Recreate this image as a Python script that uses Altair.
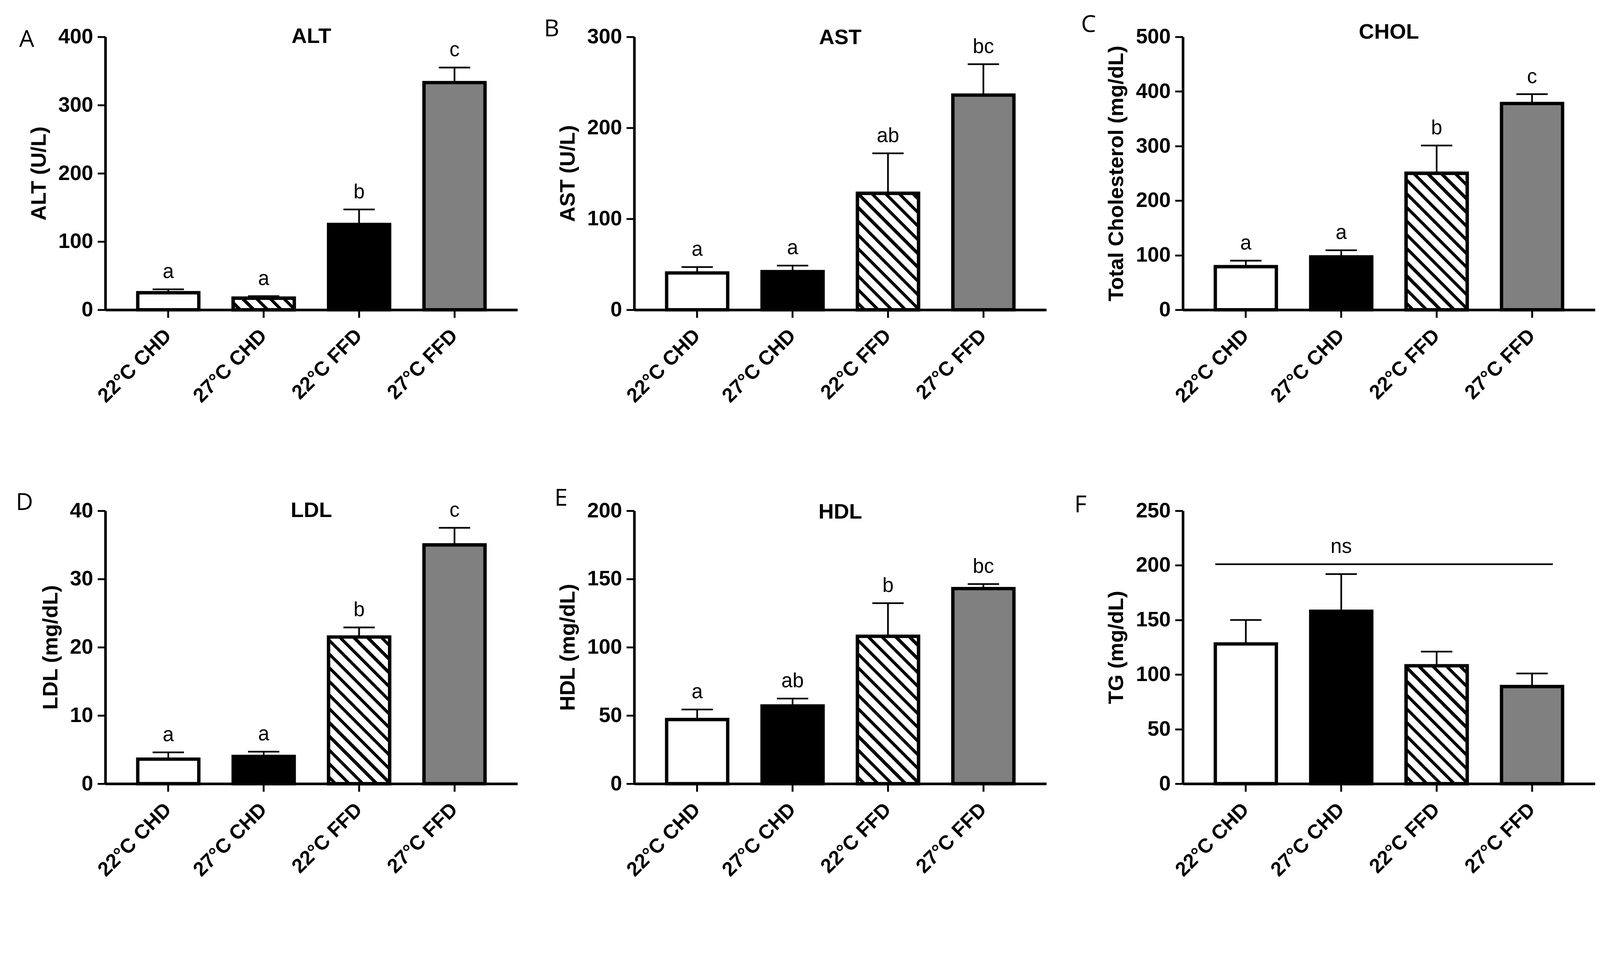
import math
import altair as alt
import pandas as pd

# ---------------- data ----------------
groups = ["22°C CHD", "27°C CHD", "22°C FFD", "27°C FFD"]

alt_mean = [25, 17, 125, 333]
alt_err = [5, 3, 22, 22]
alt_sig = ["a", "a", "b", "c"]
alt_fill = ["white", "hatch", "black", "gray"]
alt_ticks = [0, 100, 200, 300, 400]

ast_mean = [40.5, 42, 128, 236]
ast_err = [6.5, 6.6, 44, 34]
ast_sig = ["a", "a", "ab", "bc"]
ast_ticks = [0, 100, 200, 300]

chol_mean = [79, 97, 250, 378]
chol_err = [11, 12, 51, 17]
chol_sig = ["a", "a", "b", "c"]
chol_ticks = [0, 100, 200, 300, 400, 500]

ldl_mean = [3.6, 4.0, 21.5, 35.0]
ldl_err = [1.0, 0.7, 1.4, 2.5]
ldl_sig = ["a", "a", "b", "c"]
ldl_ticks = [0, 10, 20, 30, 40]

hdl_mean = [47, 57, 108, 143]
hdl_err = [7.4, 5.4, 24.3, 3.3]
hdl_sig = ["a", "ab", "b", "bc"]
hdl_ticks = [0, 50, 100, 150, 200]

tg_mean = [128, 158, 108, 89]
tg_err = [22, 34, 13, 12]
tg_sig = ["", "", "", ""]
tg_ticks = [0, 50, 100, 150, 200, 250]
tg_ns_level = 201
tg_ns_label = "ns"

std_fill = ["white", "black", "hatch", "gray"]

# ---------------- style ----------------
FILL_COLOR = {"white": "#ffffff", "black": "#000000", "gray": "#808080", "hatch": "#ffffff"}
PW, H = 1105, 732            # drawn plot width / height
CELL_W = [1418, 1471, 1105]  # layout cell widths per column
PI, PO = 0.36, 0.34
STEP = PW / (len(groups) - PI + 2 * PO)
BW = STEP * (1 - PI)
FONT = "Liberation Sans, Arial, sans-serif"
BAR_STROKE = 9


def hatch_gradient(h_px, w_px=BW, period=26.0, frac=0.32):
    L = (w_px + h_px) / math.sqrt(2)
    P = period / L
    k = (w_px + h_px) / (w_px ** 2 + h_px ** 2)
    stops = [{"offset": 0, "color": "white"}]
    j = 0
    phase = P * 0.35
    while True:
        s = phase + j * P
        if s >= 1:
            break
        e = min(s + frac * P, 1.0)
        stops += [
            {"offset": round(s, 6), "color": "white"},
            {"offset": round(s, 6), "color": "black"},
            {"offset": round(e, 6), "color": "black"},
            {"offset": round(e, 6), "color": "white"},
        ]
        j += 1
    stops.append({"offset": 1, "color": "white"})
    return {"gradient": "linear", "stops": stops,
            "x1": 0, "y1": 1, "x2": round(w_px * k, 6), "y2": round(1 - h_px * k, 6)}


def panel(letter, title, ytitle, means, errs, sigs, fills, ticks, cell_w,
          letter_dx, letter_dy, title_dy, ns=None):
    ymax = ticks[-1]
    df = pd.DataFrame({
        "group": groups,
        "mean": means,
        "top": [m + e for m, e in zip(means, errs)],
        "sig": sigs,
        "kind": fills,
        "color": [FILL_COLOR[f] for f in fills],
    })
    xscale = alt.Scale(domain=groups, paddingInner=PI, paddingOuter=PO, range=[0, PW])
    xaxis = alt.Axis(title=None, labelAngle=-45, labelAlign="right",
                     labelBaseline="middle", labelPadding=40, labelFontSize=54)
    yscale = alt.Scale(domain=[0, ymax], nice=False)
    yaxis = alt.Axis(title=ytitle, values=ticks, format="d", labelPadding=12)

    def X(f):
        return alt.X(f + ":N", sort=groups, scale=xscale, axis=xaxis)

    def Y(f):
        return alt.Y(f + ":Q", scale=yscale, axis=yaxis)

    base = alt.Chart(df)
    bars = base.mark_bar(stroke="black", strokeWidth=BAR_STROKE).encode(
        x=X("group"), y=Y("mean"), fill=alt.Fill("color:N", scale=None))
    hidx = fills.index("hatch")
    h_px = means[hidx] / ymax * H
    hatch = base.transform_filter(alt.datum.kind == "hatch").mark_bar(
        fill=hatch_gradient(h_px), stroke="black", strokeWidth=BAR_STROKE).encode(
        x=X("group"), y=Y("mean"))
    err = base.mark_rule(color="black", strokeWidth=4.5).encode(
        x=X("group"), y=Y("mean"), y2="top:Q")
    cap = base.mark_tick(color="black", thickness=4.5, size=84, opacity=1).encode(
        x=X("group"), y=Y("top"))
    sig = base.mark_text(font=FONT, fontSize=54, color="black", dy=-30,
                         baseline="alphabetic").encode(
        x=X("group"), y=Y("top"), text="sig:N")
    lab = alt.Chart(pd.DataFrame({"t": [letter]})).mark_text(
        align="left", baseline="alphabetic", font="Open Sans", fontSize=64,
        color="black").encode(x=alt.value(letter_dx), y=alt.value(letter_dy), text="t:N")
    layers = [bars, hatch, err, cap, sig, lab]
    if title:
        ttl = alt.Chart(pd.DataFrame({"t": [title]})).mark_text(
            align="center", baseline="alphabetic", font=FONT, fontSize=57,
            fontWeight="bold", color="black").encode(
            x=alt.value(PW / 2), y=alt.value(title_dy), text="t:N")
        layers.append(ttl)
    if ns is not None:
        level, label = ns
        nsdf = pd.DataFrame({"start": [groups[0]], "end": [groups[-1]],
                             "mid": [groups[1]], "level": [level], "label": [label]})
        try:
            rule = alt.Chart(nsdf).mark_rule(color="black", strokeWidth=4.5).encode(
                x=alt.X("start:N", sort=groups, scale=xscale, axis=xaxis, bandPosition=0),
                x2=alt.X2("end", bandPosition=0.84),
                y=Y("level"))
            rule.to_dict()
        except Exception:
            rule = alt.Chart(nsdf).mark_rule(color="black", strokeWidth=4.5,
                                             x2Offset=0.34 * BW).encode(
                x=alt.X("start:N", sort=groups, scale=xscale, axis=xaxis, bandPosition=0),
                x2=alt.X2("end"),
                y=Y("level"))
        nstext = alt.Chart(nsdf).mark_text(font=FONT, fontSize=54, color="black",
                                           dy=-30, baseline="alphabetic").encode(
            x=X("mid"), y=Y("level"), text="label:N")
        layers += [rule, nstext]
    return alt.layer(*layers).properties(width=cell_w, height=H)


pA = panel("A", "ALT", "ALT (U/L)", alt_mean, alt_err, alt_sig, alt_fill, alt_ticks,
           CELL_W[0], -231, 27, 16)
pB = panel("B", "AST", "AST (U/L)", ast_mean, ast_err, ast_sig, std_fill, ast_ticks,
           CELL_W[1], -242, -1, 20)
pC = panel("C", "CHOL", "Total Cholesterol (mg/dL)", chol_mean, chol_err, chol_sig, std_fill,
           chol_ticks, CELL_W[2], -273, -13, 5)
pD = panel("D", "LDL", "LDL  (mg/dL)", ldl_mean, ldl_err, ldl_sig, std_fill, ldl_ticks,
           CELL_W[0], -240, -2, 17)
pE = panel("E", "HDL", "HDL  (mg/dL)", hdl_mean, hdl_err, hdl_sig, std_fill, hdl_ticks,
           CELL_W[1], -214, -14, 21)
pF = panel("F", None, "TG  (mg/dL)", tg_mean, tg_err, tg_sig, std_fill, tg_ticks,
           CELL_W[2], -291, 4, 0, ns=(tg_ns_level, tg_ns_label))


def build(pad_top):
    return alt.concat(pA, pB, pC, pD, pE, pF, columns=3,
                      spacing={"row": 539, "column": 0}, bounds="flush").configure_axis(
        labelFont=FONT, labelFontWeight="bold", labelFontSize=56, labelColor="black",
        titleFont=FONT, titleFontWeight="bold", titleFontSize=57, titleColor="black",
        domainColor="black", domainWidth=7, tickColor="black", tickWidth=5, tickSize=21,
        grid=False, titlePadding=22, labelLimit=2000, titleLimit=3000,
    ).configure_view(stroke=None).properties(
        padding={"left": 34, "top": pad_top, "right": 5, "bottom": 5},
        background="white",
    )


try:
    chart = build(-28)
    chart.to_dict()
except Exception:
    chart = build(0)

chart.save("out.html", embed_options={"renderer": "svg", "actions": False})
